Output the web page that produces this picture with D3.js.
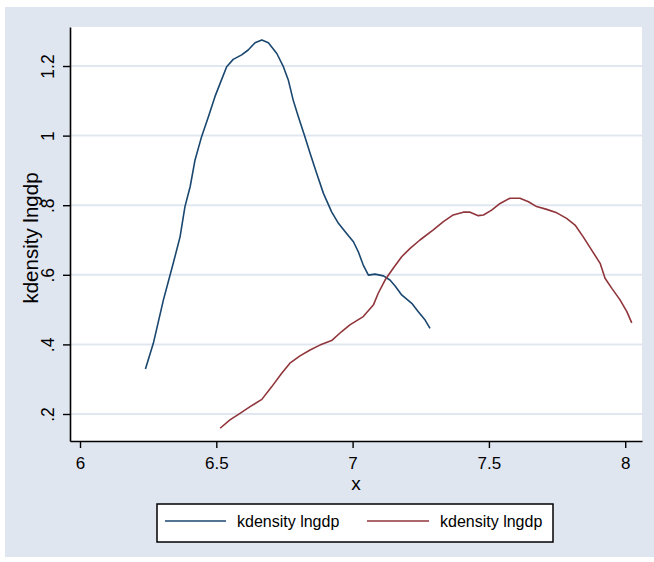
<!DOCTYPE html>
<html>
<head>
<meta charset="utf-8">
<script src="https://cdn.jsdelivr.net/npm/d3@7"></script>
<style>
  html, body { margin: 0; padding: 0; background: #ffffff; }
  svg { display: block; }
  text { font-family: "Liberation Sans", Arial, Helvetica, sans-serif; fill: #000; }
</style>
</head>
<body>
<svg id="chart" width="654" height="562"></svg>
<script>
// Kernel density estimates of lngdp for two groups
const seriesNames = ["kdensity lngdp", "kdensity lngdp"];
const seriesColors = ["#1a476f", "#90353b"];

const densityAX = [6.240, 6.269, 6.306, 6.342, 6.367, 6.385, 6.404, 6.422, 6.446, 6.471,
  6.495, 6.514, 6.538, 6.562, 6.593, 6.617, 6.642, 6.667, 6.691, 6.722,
  6.746, 6.764, 6.782, 6.801, 6.825, 6.844, 6.868, 6.893, 6.923, 6.948,
  6.978, 7.003, 7.021, 7.039, 7.058, 7.082, 7.113, 7.137, 7.156, 7.180,
  7.217, 7.241, 7.266, 7.284];
const densityAY = [0.329, 0.403, 0.528, 0.633, 0.709, 0.796, 0.853, 0.930, 0.997, 1.054,
  1.112, 1.150, 1.198, 1.219, 1.232, 1.246, 1.267, 1.275, 1.267, 1.236,
  1.198, 1.160, 1.102, 1.054, 0.997, 0.949, 0.892, 0.834, 0.781, 0.748,
  0.719, 0.695, 0.666, 0.628, 0.599, 0.602, 0.597, 0.585, 0.568, 0.542,
  0.518, 0.494, 0.470, 0.446];

const densityBX = [6.514, 6.550, 6.587, 6.624, 6.667, 6.703, 6.740, 6.770, 6.807, 6.844,
  6.880, 6.923, 6.960, 6.990, 7.039, 7.076, 7.094, 7.119, 7.149, 7.180,
  7.211, 7.247, 7.296, 7.333, 7.369, 7.406, 7.431, 7.461, 7.480, 7.510,
  7.541, 7.577, 7.614, 7.645, 7.675, 7.712, 7.749, 7.785, 7.816, 7.846,
  7.877, 7.908, 7.926, 7.951, 7.981, 8.006, 8.024];
const densityBY = [0.159, 0.183, 0.202, 0.221, 0.242, 0.278, 0.317, 0.346, 0.367, 0.384,
  0.398, 0.411, 0.437, 0.456, 0.480, 0.513, 0.547, 0.585, 0.619, 0.652,
  0.676, 0.700, 0.729, 0.753, 0.772, 0.780, 0.780, 0.770, 0.772, 0.786,
  0.805, 0.820, 0.820, 0.810, 0.796, 0.788, 0.778, 0.762, 0.743, 0.709,
  0.671, 0.633, 0.590, 0.561, 0.528, 0.494, 0.462];

const xTicks = [6, 6.5, 7, 7.5, 8];
const xTickLabels = ["6", "6.5", "7", "7.5", "8"];
const yTicks = [0.2, 0.4, 0.6, 0.8, 1.0, 1.2];
const yTickLabels = [".2", ".4", ".6", ".8", "1", "1.2"];
const xTitle = "x";
const yTitle = "kdensity lngdp";

const svg = d3.select("#chart");
const W = 654, H = 562;

// plot region
const plot = { left: 70, right: 642, top: 27, bottom: 441 };

const x = d3.scaleLinear().domain([5.9633, 8.0616]).range([plot.left, plot.right]);
const y = d3.scaleLinear().domain([0.1224, 1.3121]).range([plot.bottom, plot.top]);

// graph region background
svg.append("rect").attr("x", 5).attr("y", 7).attr("width", W - 5).attr("height", 550)
  .attr("fill", "#e0e6f0");
svg.append("rect").attr("x", plot.left).attr("y", plot.top)
  .attr("width", plot.right - plot.left).attr("height", plot.bottom - plot.top)
  .attr("fill", "#ffffff");

// horizontal grid
svg.append("g").selectAll("line").data(yTicks).join("line")
  .attr("x1", plot.left).attr("x2", plot.right)
  .attr("y1", d => y(d)).attr("y2", d => y(d))
  .attr("stroke", "#e1e7f1").attr("stroke-width", 2);

// density curves
const line = d3.line().x(d => x(d[0])).y(d => y(d[1]));
const seriesData = [
  d3.zip(densityAX, densityAY),
  d3.zip(densityBX, densityBY)
];
svg.append("g").selectAll("path").data(seriesData).join("path")
  .attr("d", line)
  .attr("fill", "none")
  .attr("stroke", (d, i) => seriesColors[i])
  .attr("stroke-width", 1.6)
  .attr("stroke-linejoin", "round");

// y axis
const yAxis = d3.axisLeft(y).tickValues(yTicks)
  .tickFormat((d, i) => yTickLabels[i]).tickSize(7).tickSizeOuter(0);
const gy = svg.append("g").attr("transform", `translate(${plot.left},0)`).call(yAxis);
gy.select(".domain").attr("stroke", "#000").attr("stroke-width", 1.6);
gy.selectAll(".tick line").attr("stroke", "#000").attr("stroke-width", 1.4);
gy.selectAll(".tick text")
  .attr("transform", "rotate(-90)")
  .attr("x", 0).attr("y", -16).attr("dy", null)
  .attr("text-anchor", "middle")
  .style("font-size", "17.5px");

// x axis
const xAxis = d3.axisBottom(x).tickValues(xTicks)
  .tickFormat((d, i) => xTickLabels[i]).tickSize(7).tickSizeOuter(0);
const gx = svg.append("g").attr("transform", `translate(0,${plot.bottom})`).call(xAxis);
gx.select(".domain").attr("stroke", "#000").attr("stroke-width", 1.6);
gx.selectAll(".tick line").attr("stroke", "#000").attr("stroke-width", 1.4);
gx.selectAll(".tick text")
  .attr("y", 28).attr("dy", null)
  .attr("text-anchor", "middle")
  .style("font-size", "17px");
svg.selectAll(".tick text").attr("font-family", null).attr("fill", "#000");
svg.selectAll("g").attr("font-family", null).attr("font-size", null);

// axis titles
svg.append("text").attr("x", 356).attr("y", 490)
  .attr("text-anchor", "middle").style("font-size", "19px").text(xTitle);
svg.append("text").attr("transform", "translate(38,238) rotate(-90)")
  .attr("text-anchor", "middle").style("font-size", "20.5px").text(yTitle);

// legend
const legend = svg.append("g");
legend.append("rect").attr("x", 157).attr("y", 504).attr("width", 396).attr("height", 38)
  .attr("fill", "#ffffff").attr("stroke", "#000").attr("stroke-width", 1.5);
const legendItems = [
  { x1: 165, x2: 226, tx: 237 },
  { x1: 367, x2: 429, tx: 440 }
];
legend.selectAll("line.key").data(legendItems).join("line").attr("class", "key")
  .attr("x1", d => d.x1).attr("x2", d => d.x2).attr("y1", 521).attr("y2", 521)
  .attr("stroke", (d, i) => seriesColors[i]).attr("stroke-width", 1.6);
legend.selectAll("text").data(legendItems).join("text")
  .attr("x", d => d.tx).attr("y", 527)
  .style("font-size", "16px")
  .text((d, i) => seriesNames[i]);
</script>
</body>
</html>
